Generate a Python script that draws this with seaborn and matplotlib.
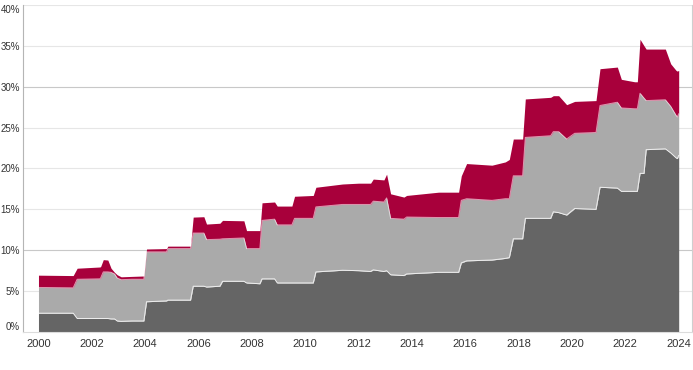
import matplotlib
matplotlib.use("Agg")
import matplotlib.pyplot as plt
import seaborn as sns
import pandas as pd

# break points (year, upper edge of each stacked band, in %)
years = [2000.0, 2001.3, 2001.45, 2002.3, 2002.33, 2002.43, 2002.6, 2002.72, 2002.85,
         2002.95, 2003.1, 2003.5, 2003.95, 2004.05, 2004.8, 2004.85, 2005.7, 2005.8,
         2006.2, 2006.3, 2006.8, 2006.9, 2007.7, 2007.8, 2008.3, 2008.38, 2008.85,
         2008.95, 2009.5, 2009.6, 2010.3, 2010.4, 2011.4, 2012.0, 2012.45, 2012.55,
         2012.95, 2013.05, 2013.2, 2013.7, 2013.8, 2015.0, 2015.75, 2015.85, 2016.05,
         2017.0, 2017.5, 2017.65, 2017.8, 2018.15, 2018.25, 2019.2, 2019.3, 2019.5,
         2019.8, 2020.1, 2020.9, 2021.05, 2021.7, 2021.85, 2022.35, 2022.45, 2022.55,
         2022.7, 2022.78, 2023.5, 2023.7, 2023.9, 2023.95, 2024.0]
dark_top = [2.3, 2.3, 1.65, 1.65, 1.65, 1.65, 1.65, 1.6, 1.6,
            1.35, 1.3, 1.35, 1.35, 3.7, 3.8, 3.9, 3.9, 5.6,
            5.6, 5.5, 5.6, 6.2, 6.2, 6.0, 5.9, 6.5, 6.5,
            6.0, 6.0, 6.0, 6.0, 7.35, 7.55, 7.5, 7.4, 7.6,
            7.4, 7.5, 7.0, 6.9, 7.1, 7.3, 7.3, 8.45, 8.7,
            8.8, 9.0, 9.1, 11.4, 11.4, 13.9, 13.9, 14.7, 14.6,
            14.3, 15.1, 15.0, 17.7, 17.6, 17.2, 17.2, 17.2, 19.4,
            19.4, 22.3, 22.4, 21.9, 21.3, 21.2, 21.6]
grey_top = [5.45, 5.4, 6.45, 6.5, 6.6, 7.35, 7.35, 7.3, 7.1,
            6.6, 6.4, 6.45, 6.45, 9.8, 9.8, 10.2, 10.2, 12.1,
            12.1, 11.3, 11.35, 11.4, 11.5, 10.2, 10.2, 13.65, 13.8,
            13.1, 13.1, 13.9, 13.9, 15.3, 15.6, 15.6, 15.6, 16.0,
            15.9, 16.4, 13.9, 13.8, 14.06, 14.0, 14.0, 16.1, 16.3,
            16.1, 16.3, 16.3, 19.1, 19.1, 23.8, 24.0, 24.5, 24.5,
            23.6, 24.3, 24.4, 27.7, 28.1, 27.4, 27.3, 27.3, 29.2,
            28.6, 28.3, 28.4, 27.6, 26.5, 26.3, 26.7]
red_top = [6.95, 6.9, 7.8, 7.95, 8.0, 8.85, 8.8, 7.8, 7.3,
           7.0, 6.75, 6.8, 6.85, 10.15, 10.2, 10.5, 10.5, 14.05,
           14.1, 13.2, 13.3, 13.65, 13.6, 12.4, 12.4, 15.8, 15.9,
           15.4, 15.4, 16.6, 16.7, 17.7, 18.1, 18.2, 18.2, 18.7,
           18.6, 19.3, 16.9, 16.5, 16.7, 17.1, 17.1, 19.1, 20.6,
           20.4, 20.8, 21.1, 23.6, 23.6, 28.5, 28.7, 28.9, 28.9,
           27.8, 28.2, 28.3, 32.2, 32.4, 30.9, 30.6, 30.6, 35.8,
           35.0, 34.6, 34.6, 32.8, 32.0, 31.9, 32.0]

year_ticks = list(range(2000, 2025, 2))
pct_ticks = list(range(0, 45, 5))

df = pd.DataFrame({"year": years, "dark": dark_top, "grey": grey_top, "red": red_top})

sns.set_style("white")
plt.rcParams["font.family"] = ["Liberation Sans", "DejaVu Sans"]

fig = plt.figure(figsize=(6.93, 3.70), dpi=100)
ax = fig.add_axes([0.0332, 0.1027, 0.9654, 0.884])

# gridlines behind the areas
for v in pct_ticks[1:]:
    ax.axhline(v, color="#c8c8c8" if v in (10, 30) else "#e6e6e6", lw=0.8, zorder=0)

ax.fill_between(df["year"], 0, df["dark"], color="#656565", lw=0, zorder=1)
ax.fill_between(df["year"], df["dark"], df["grey"], color="#aaaaaa", lw=0, zorder=1)
ax.fill_between(df["year"], df["grey"], df["red"], color="#a8003b", lw=0, zorder=1)
sns.lineplot(data=df, x="year", y="dark", color="white", lw=0.7, alpha=0.8,
             estimator=None, ax=ax, zorder=2)
sns.lineplot(data=df, x="year", y="grey", color="white", lw=0.7, alpha=0.6,
             estimator=None, ax=ax, zorder=2)

ax.set_xlim(1999.42, 2024.5)
ax.set_ylim(0, 40)
ax.set_xlabel("")
ax.set_ylabel("")

ax.set_xticks(year_ticks)
ax.set_xticklabels([str(y) for y in year_ticks])
ax.set_xticks(list(range(2001, 2024, 2)), minor=True)
ax.tick_params(axis="x", which="major", length=0, pad=5, labelsize=8, labelcolor="#333333")
ax.tick_params(axis="x", which="minor", length=3, color="#dddddd", width=0.8)

ax.set_yticks(pct_ticks)
ax.set_yticklabels([f"{v}%" for v in pct_ticks])
ax.tick_params(axis="y", length=0, pad=2.2, labelsize=7, labelcolor="#333333")
ylabels = ax.get_yticklabels()
ylabels[0].set_verticalalignment("bottom")
ylabels[-1].set_verticalalignment("top")

ax.spines["top"].set_visible(False)
ax.spines["left"].set_color("#b5b5b5")
ax.spines["bottom"].set_color("#dcdcdc")
ax.spines["right"].set_color("#cfcfcf")
for s in ("left", "bottom", "right"):
    ax.spines[s].set_linewidth(0.8)

fig.savefig("out.png", dpi=100)
